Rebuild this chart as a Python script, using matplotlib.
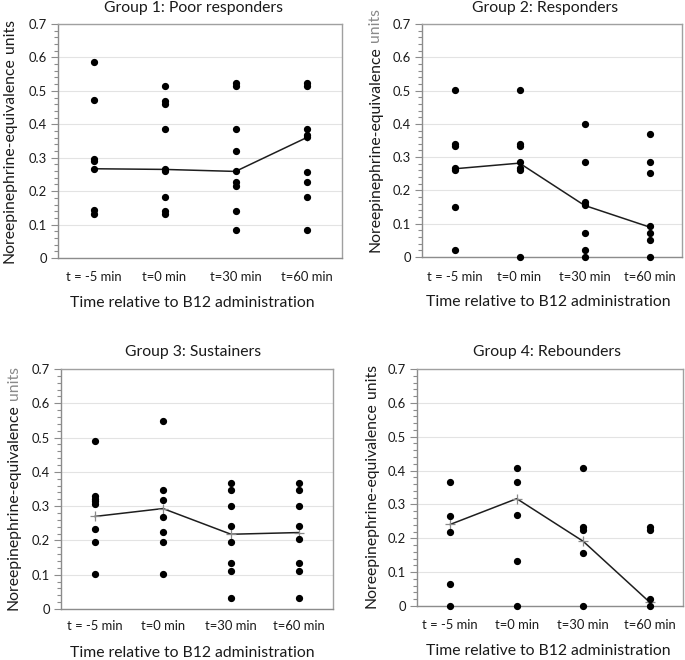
import matplotlib
matplotlib.use("Agg")
import matplotlib.pyplot as plt
from matplotlib.ticker import MultipleLocator

plt.rcParams['font.family'] = ['Lato', 'DejaVu Sans']

categories = ["t = -5 min", "t=0 min", "t=30 min", "t=60 min"]
yticks = [0, 0.1, 0.2, 0.3, 0.4, 0.5, 0.6, 0.7]
ytick_labels = ["0", "0.1", "0.2", "0.3", "0.4", "0.5", "0.6", "0.7"]
titles = ["Group 1: Poor responders", "Group 2: Responders",
          "Group 3: Sustainers", "Group 4: Rebounders"]
xlabel = "Time relative to B12 administration"
ylabel_main = "Noreepinephrine-equivalence"
ylabel_tail = "units"

# Group 1: Poor responders
g1_tm5 = [0.585, 0.472, 0.297, 0.290, 0.267, 0.143, 0.132]
g1_t0 = [0.516, 0.469, 0.462, 0.386, 0.267, 0.260, 0.182, 0.142, 0.131]
g1_t30 = [0.523, 0.516, 0.386, 0.319, 0.260, 0.226, 0.214, 0.142, 0.084]
g1_t60 = [0.523, 0.516, 0.386, 0.368, 0.362, 0.258, 0.227, 0.182, 0.084]
g1_line = [0.267, 0.265, 0.259, 0.360]

# Group 2: Responders
g2_tm5 = [0.503, 0.340, 0.332, 0.268, 0.260, 0.151, 0.021]
g2_t0 = [0.503, 0.340, 0.332, 0.286, 0.268, 0.260, 0.0]
g2_t30 = [0.399, 0.285, 0.164, 0.156, 0.071, 0.021, 0.0]
g2_t60 = [0.369, 0.285, 0.253, 0.092, 0.071, 0.052, 0.0]
g2_line = [0.265, 0.282, 0.155, 0.090]

# Group 3: Sustainers
g3_tm5 = [0.491, 0.329, 0.322, 0.314, 0.307, 0.234, 0.195, 0.102]
g3_t0 = [0.549, 0.348, 0.318, 0.268, 0.224, 0.195, 0.102]
g3_t30 = [0.368, 0.348, 0.300, 0.243, 0.195, 0.134, 0.110, 0.031]
g3_t60 = [0.368, 0.348, 0.300, 0.243, 0.203, 0.134, 0.110, 0.031]
g3_line = [0.270, 0.293, 0.218, 0.223]

# Group 4: Rebounders
g4_tm5 = [0.367, 0.267, 0.218, 0.066, 0.0]
g4_t0 = [0.407, 0.367, 0.269, 0.133, 0.0]
g4_t30 = [0.407, 0.232, 0.224, 0.157, 0.0]
g4_t60 = [0.232, 0.224, 0.022, 0.0]
g4_line = [0.241, 0.317, 0.191, 0.011]

groups = [
    ([g1_tm5, g1_t0, g1_t30, g1_t60], g1_line),
    ([g2_tm5, g2_t0, g2_t30, g2_t60], g2_line),
    ([g3_tm5, g3_t0, g3_t30, g3_t60], g3_line),
    ([g4_tm5, g4_t0, g4_t30, g4_t60], g4_line),
]

W, H = 685, 660
fig = plt.figure(figsize=(W / 100, H / 100), dpi=100)
renderer = fig.canvas.get_renderer()

# axes boxes in pixels: left, right, top, bottom
boxes = [(58, 342, 24, 258), (422, 682, 24, 257),
         (61, 333, 369, 609), (417, 683, 369, 606)]
# ylabel: x center, bottom y (pixels from top), grey tail?
ylab = [(10, 263, False), (375, 252, True), (14, 610, True), (372, 608, False)]
title_pos = [(193, 8), (545, 8), (193, 352), (547, 352)]
xlabel_pos = [(192, 303), (548, 302), (192, 653), (548, 651)]
ticklab_y = [277, 277, 626, 625]
plus_size = [5, 5, 7, 7]

fs_tick = 9.4
fs_lab = 11.3
fs_title = 11.3
txtc = '#1a1a1a'

def px(x, y):
    return x / W, 1 - y / H

for i, ((series, line), (l, r, t, b)) in enumerate(zip(groups, boxes)):
    ax = fig.add_axes([l / W, 1 - b / H, (r - l) / W, (b - t) / H])
    ax.set_xlim(-0.5, 3.5)
    ax.set_ylim(0, 0.7)
    ax.set_yticks(yticks)
    ax.set_yticklabels(ytick_labels, fontsize=fs_tick, color=txtc)
    ax.yaxis.set_minor_locator(MultipleLocator(0.02))
    ax.tick_params(axis='y', which='major', length=5, width=0.8, color='#8c8c8c', pad=3)
    ax.tick_params(axis='y', which='minor', length=3, width=0.8, color='#8c8c8c')
    ax.set_xticks(range(len(categories)))
    ax.set_xticklabels([])
    ax.tick_params(axis='x', length=0)
    ax.grid(axis='y', which='major', color='#e3e3e3', linewidth=0.8)
    ax.set_axisbelow(True)
    for s in ['top', 'right']:
        ax.spines[s].set_color('#a0a0a0')
        ax.spines[s].set_linewidth(1.0)
    for s in ['left', 'bottom']:
        ax.spines[s].set_color('#8c8c8c')
        ax.spines[s].set_linewidth(1.0)
    ax.plot(range(len(line)), line, '-', color='#1e1e1e', linewidth=1.1, zorder=3,
            marker='+', markersize=plus_size[i], markeredgecolor='#8a8a8a',
            markeredgewidth=0.9)
    for xi, vals in enumerate(series):
        ax.plot([xi] * len(vals), vals, 'o', color='black', markersize=4.2,
                linestyle='none', clip_on=False, zorder=4)
    # category labels
    for xi, c in enumerate(categories):
        xd = ax.transData.transform((xi, 0))[0]
        fig.text(xd / W, 1 - ticklab_y[i] / H, c, ha='center', va='center',
                 fontsize=fs_tick, color=txtc)
    fig.text(*px(*title_pos[i]), titles[i], ha='center', va='center',
             fontsize=fs_title, color=txtc)
    fig.text(*px(*xlabel_pos[i]), xlabel, ha='center', va='center',
             fontsize=fs_lab, color=txtc)
    xc, yb, grey_tail = ylab[i]
    main = fig.text(*px(xc, yb), ylabel_main, rotation=90,
                    rotation_mode='anchor', ha='left', va='center',
                    fontsize=fs_lab, color=txtc)
    ext = main.get_window_extent(renderer=renderer)
    top_px = ext.y1 + fs_lab * 100 / 72 * 0.27
    fig.text(xc / W, top_px / H, ylabel_tail, rotation=90,
             rotation_mode='anchor', ha='left', va='center',
             fontsize=fs_lab, color='#8a8a8a' if grey_tail else txtc)

fig.savefig("out.png", dpi=100)
